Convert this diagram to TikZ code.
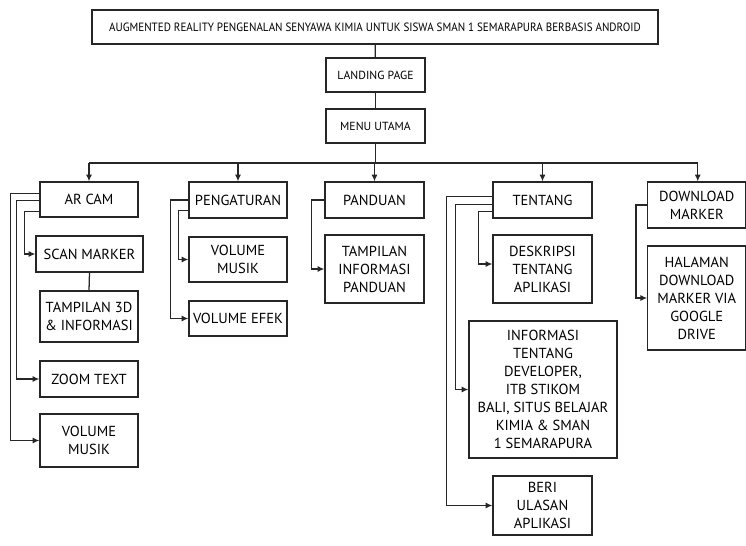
\documentclass[tikz,border=0pt]{standalone}
\usepackage{fontspec}
\setmainfont{PT Sans}
\usetikzlibrary{calc,arrows.meta}
\begin{document}
\begin{tikzpicture}[x=0.75pt,y=-0.75pt,
  line width=0.95pt,
  lnk/.style={draw=black!85,line width=0.95pt},
  box/.style={draw=black!85,line width=0.95pt,inner sep=0pt,align=center,
    font=\fontsize{10.9}{13.5}\selectfont},
  arr/.style={lnk,-{Latex[length=5pt,width=4.5pt]}}]
\useasboundingbox (0,0) rectangle (746,546);
% nodes (px coordinates, y downward)
\node[box,minimum width=424.5pt,minimum height=25.5pt,font=\fontsize{9}{10}\selectfont] (title) at (375,27)
  {\scalebox{0.92}[1]{AUGMENTED REALITY PENGENALAN SENYAWA KIMIA UNTUK SISWA SMAN 1 SEMARAPURA BERBASIS ANDROID}};
\node[box,minimum width=74.25pt,minimum height=25.5pt,font=\fontsize{8.8}{10}\selectfont] (landing) at (375.5,75) {LANDING PAGE};
\node[box,minimum width=74.25pt,minimum height=25.5pt,font=\fontsize{8.8}{10}\selectfont] (menu) at (375.5,126) {MENU UTAMA};

\node[box,minimum width=73.5pt,minimum height=26.25pt] (arcam) at (89,199.5) {AR CAM};
\node[box,minimum width=80.25pt,minimum height=27pt] (scan) at (89.5,254) {SCAN MARKER};
\node[box,minimum width=73.5pt,minimum height=38.25pt] (t3d) at (89,316.5) {TAMPILAN 3D\\\& INFORMASI};
\node[box,minimum width=73.5pt,minimum height=27pt] (zoom) at (89,379) {ZOOM TEXT};
\node[box,minimum width=73.5pt,minimum height=39.75pt] (vm1) at (89,440.5) {VOLUME\\MUSIK};

\node[box,minimum width=73.5pt,minimum height=27pt] (peng) at (238,200) {PENGATURAN};
\node[box,minimum width=73.5pt,minimum height=33.75pt] (vm2) at (238,259.5) {VOLUME\\MUSIK};
\node[box,minimum width=73.5pt,minimum height=26.25pt] (vefek) at (238,318.5) {VOLUME EFEK};

\node[box,minimum width=74.25pt,minimum height=27pt] (pand) at (374.5,200) {PANDUAN};
\node[box,minimum width=74.25pt,minimum height=51pt] (tinfo) at (374.5,269) {TAMPILAN\\INFORMASI\\PANDUAN};

\node[box,minimum width=74.25pt,minimum height=27pt] (tent) at (542.5,200) {TENTANG};
\node[box,minimum width=74.25pt,minimum height=51pt] (desk) at (542.5,269) {DESKRIPSI\\TENTANG\\APLIKASI};
\node[box,minimum width=111pt,minimum height=102.75pt] (info) at (543,389.5) {INFORMASI\\TENTANG\\DEVELOPER,\\ITB STIKOM\\BALI, SITUS BELAJAR\\KIMIA \& SMAN\\1 SEMARAPURA};
\node[box,minimum width=74.25pt,minimum height=44.25pt] (beri) at (542.5,505.5) {BERI\\ULASAN\\APLIKASI};

\node[box,minimum width=73.5pt,minimum height=34.5pt] (dl) at (696.75,205) {DOWNLOAD\\MARKER};
\node[box,minimum width=73.5pt,minimum height=78pt] (hal) at (696.75,298) {HALAMAN\\DOWNLOAD\\MARKER VIA\\GOOGLE\\DRIVE};

% trunk
\coordinate (bus) at (0,163);
\draw[lnk] (title) -- (landing);
\draw[lnk] (landing) -- (menu);
\draw[lnk] (menu.south) -- (menu.south |- bus);
\draw[lnk] (arcam.north |- bus) -- ($(dl.north |- bus)+(1,0)$);
\draw[arr] (arcam.north |- bus) -- (arcam.north);
\draw[arr] (peng.north |- bus) -- (peng.north);
\draw[arr] (pand.north |- bus) -- (pand.north);
\draw[arr] (tent.north |- bus) -- (tent.north);
\draw[arr] ($(dl.north |- bus)+(1,0)$) -- ($(dl.north)+(1,0)$);

% AR CAM branches
\draw[arr] ($(arcam.north west)+(0,12)$) -- ++(-29,0) |- (vm1.west);
\draw[arr] ($(arcam.north west)+(0,19)$) -- ++(-23,0) |- (zoom.west);
\draw[arr] ($(arcam.north west)+(0,30)$) -- ++(-15,0) |- (scan.west);
\draw[lnk] (scan.south) -- (t3d.north);

% PENGATURAN branches
\draw[arr] (peng.west) -- ++(-18,0) |- (vefek.west);
\draw[arr] ($(peng.north west)+(0,29)$) -- ++(-10,0) |- (vm2.west);

% PANDUAN
\draw[arr] (pand.west) -- ++(-13,0) |- (tinfo.west);

% TENTANG branches
\draw[arr] ($(tent.north west)+(0,15)$) -- ++(-46,0) |- (beri.west);
\draw[arr] ($(tent.north west)+(0,23)$) -- ++(-37,0) |- (info.west);
\draw[arr] ($(tent.north west)+(0,30)$) -- ++(-14,0) |- ($(desk.west)+(0,-5)$);

% DOWNLOAD
\draw[arr] (dl.west) -- ++(-11,0) |- (hal.west);
\end{tikzpicture}
\end{document}
